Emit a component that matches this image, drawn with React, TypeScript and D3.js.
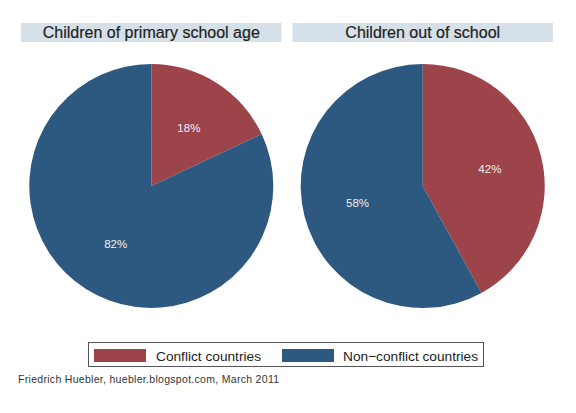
import React from "react";
import * as d3 from "d3";

const categories = ["Conflict countries", "Non\u2212conflict countries"];
const panelTitles = ["Children of primary school age", "Children out of school"];
const primaryAge = [18, 82];
const outOfSchool = [42, 58];
const series = [primaryAge, outOfSchool];
const sourceNote = "Friedrich Huebler, huebler.blogspot.com, March 2011";

const W = 576;
const H = 413;
const colors = ["#9d434a", "#2d5880"];
const font = "'Liberation Sans', Arial, sans-serif";

export default function App() {
  const panelX = d3.scaleBand<number>().domain([0, 1]).range([21, 553]).paddingInner(0.04);
  const r = 122;
  const cy = 186;
  const pie = d3.pie<number>().sort(null).value((d) => d).startAngle(0).endAngle(2 * Math.PI);
  const arc = d3.arc<d3.PieArcDatum<number>>().innerRadius(0).outerRadius(r);
  const labelArc = d3.arc<d3.PieArcDatum<number>>().innerRadius(r * 0.56).outerRadius(r * 0.56);

  return (
    <svg width={W} height={H} style={{ position: "absolute", left: 0, top: 0, background: "#fff" }}>
      <rect x={0} y={0} width={W} height={H} fill="#fff" />
      {series.map((vals, i) => {
        const x0 = panelX(i)!;
        const bw = panelX.bandwidth();
        const cx = x0 + bw / 2;
        const arcs = pie(vals);
        return (
          <g key={i}>
            <rect x={x0} y={23} width={bw} height={19} fill="#d6e0e8" />
            <text x={cx} y={38} textAnchor="middle" fontFamily={font} fontSize={16} fill="#222"
              stroke="#222" strokeWidth={0.2}>
              {panelTitles[i]}
            </text>
            <g transform={`translate(${cx},${cy})`}>
              {arcs.map((a, j) => (
                <path key={j} d={arc(a)!} fill={colors[j]} />
              ))}
              {arcs.map((a, j) => {
                const [lx, ly] = labelArc.centroid(a);
                return (
                  <text key={"l" + j} x={lx + 1} y={ly} textAnchor="middle" dominantBaseline="central"
                    fontFamily={font} fontSize={11.5} fill="#eef0f4">
                    {vals[j]}%
                  </text>
                );
              })}
            </g>
          </g>
        );
      })}
      <rect x={88.5} y={342.5} width={395} height={24} fill="#fff" stroke="#555" strokeWidth={1} />
      {categories.map((c, j) => {
        const sx = j === 0 ? 94 : 282;
        return (
          <g key={c}>
            <rect x={sx} y={349} width={52} height={13} fill={colors[j]} />
            <text x={sx + (j === 0 ? 62 : 61)} y={360.5} fontFamily={font} fontSize={13.7} fill="#222">
              {c}
            </text>
          </g>
        );
      })}
      <text x={18} y={383} fontFamily={font} fontSize={10.5} letterSpacing={0.3} fill="#333">
        {sourceNote}
      </text>
    </svg>
  );
}
